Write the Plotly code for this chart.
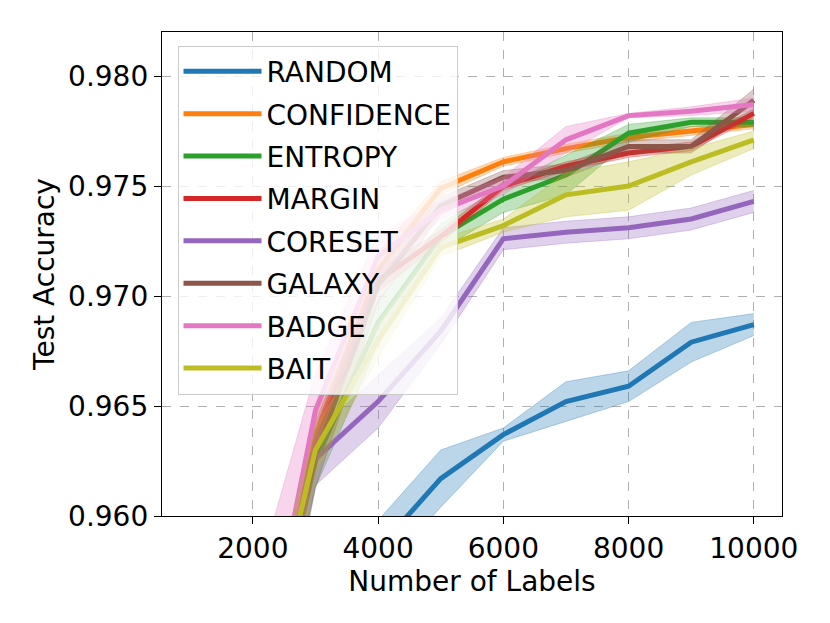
import plotly.graph_objects as go

labels = [1000, 2000, 3000, 4000, 5000, 6000, 7000, 8000, 9000, 10000]

methods = ["RANDOM", "CONFIDENCE", "ENTROPY", "MARGIN", "CORESET", "GALAXY", "BADGE", "BAIT"]
colors = ["#1f77b4", "#ff7f0e", "#2ca02c", "#d62728", "#9467bd", "#8c564b", "#e377c2", "#bcbd22"]

random_mean = [0.9200, 0.9350, 0.9480, 0.9585, 0.9617, 0.9637, 0.9652, 0.9659, 0.9679, 0.9687]
random_std = [0.0020, 0.0018, 0.0015, 0.0013, 0.0013, 0.0003, 0.0009, 0.0007, 0.0009, 0.0005]

confidence_mean = [0.9300, 0.9500, 0.9637, 0.9712, 0.9749, 0.9761, 0.9767, 0.9772, 0.9775, 0.9778]
confidence_std = [0.0020, 0.0020, 0.0008, 0.0008, 0.0003, 0.0002, 0.0002, 0.0002, 0.0002, 0.0002]

entropy_mean = [0.9300, 0.9500, 0.9625, 0.9688, 0.9727, 0.9744, 0.9755, 0.9774, 0.9779, 0.9779]
entropy_std = [0.0020, 0.0020, 0.0012, 0.0010, 0.0006, 0.0006, 0.0009, 0.0004, 0.0002, 0.0002]

margin_mean = [0.9300, 0.9500, 0.9632, 0.9707, 0.9727, 0.9750, 0.9759, 0.9765, 0.9768, 0.9783]
margin_std = [0.0020, 0.0020, 0.0006, 0.0005, 0.0003, 0.0002, 0.0002, 0.0002, 0.0002, 0.0002]

coreset_mean = [0.9320, 0.9504, 0.9626, 0.9652, 0.9684, 0.9726, 0.9729, 0.9731, 0.9735, 0.9743]
coreset_std = [0.0020, 0.0020, 0.0012, 0.0012, 0.0006, 0.0005, 0.0005, 0.0005, 0.0005, 0.0005]

galaxy_mean = [0.9300, 0.9495, 0.9628, 0.9705, 0.9741, 0.9754, 0.9757, 0.9768, 0.9768, 0.9789]
galaxy_std = [0.0030, 0.0030, 0.0015, 0.0008, 0.0004, 0.0003, 0.0003, 0.0003, 0.0003, 0.0005]

badge_mean = [0.9300, 0.9505, 0.9648, 0.9718, 0.9739, 0.9750, 0.9771, 0.9782, 0.9784, 0.9787]
badge_std = [0.0060, 0.0060, 0.0017, 0.0010, 0.0004, 0.0004, 0.0006, 0.0001, 0.0002, 0.0003]

bait_mean = [0.9310, 0.9510, 0.9630, 0.9680, 0.9722, 0.9732, 0.9746, 0.9750, 0.9761, 0.9771]
bait_std = [0.0020, 0.0020, 0.0010, 0.0008, 0.0004, 0.0003, 0.0010, 0.0011, 0.0006, 0.0004]

means = [random_mean, confidence_mean, entropy_mean, margin_mean,
         coreset_mean, galaxy_mean, badge_mean, bait_mean]
stds = [random_std, confidence_std, entropy_std, margin_std,
        coreset_std, galaxy_std, badge_std, bait_std]

x_ticks = [2000, 4000, 6000, 8000, 10000]
x_tick_text = ["2000", "4000", "6000", "8000", "10000"]
y_ticks = [0.960, 0.965, 0.970, 0.975, 0.980]
y_tick_text = ["0.960", "0.965", "0.970", "0.975", "0.980"]


def rgba(hex_color, a):
    h = hex_color.lstrip("#")
    r, g, b = int(h[0:2], 16), int(h[2:4], 16), int(h[4:6], 16)
    return f"rgba({r},{g},{b},{a})"


FONT = "DejaVu Sans"
fig = go.Figure()

for name, col, m, s in zip(methods, colors, means, stds):
    lower = [a - b for a, b in zip(m, s)]
    upper = [a + b for a, b in zip(m, s)]
    fig.add_trace(go.Scatter(x=labels, y=lower, mode="lines",
                             line=dict(color=rgba(col, 0.3), width=1),
                             legendgroup=name, showlegend=False, hoverinfo="skip"))
    fig.add_trace(go.Scatter(x=labels, y=upper, mode="lines",
                             line=dict(color=rgba(col, 0.3), width=1),
                             fill="tonexty", fillcolor=rgba(col, 0.3),
                             legendgroup=name, showlegend=False, hoverinfo="skip"))
    fig.add_trace(go.Scatter(x=labels, y=m, mode="lines", name=name,
                             line=dict(color=col, width=5),
                             legendgroup=name))

axis_common = dict(
    showgrid=True, gridcolor="#b0b0b0", griddash="dash", gridwidth=1,
    showline=True, mirror=True, linecolor="black", linewidth=1.3,
    ticks="outside", ticklen=7, tickwidth=1.3, tickcolor="black",
    tickfont=dict(family=FONT, size=28, color="black"),
    zeroline=False,
)

fig.update_layout(
    width=830, height=623,
    paper_bgcolor="white", plot_bgcolor="white",
    margin=dict(l=154, r=56, t=24, b=115),
    font=dict(family=FONT, size=28, color="black"),
    xaxis=dict(range=[550, 10450], tickvals=x_ticks, ticktext=x_tick_text,
               title=dict(text="Number of Labels", font=dict(family=FONT, size=28), standoff=0),
               **axis_common),
    yaxis=dict(range=[0.960, 0.982], tickvals=y_ticks, ticktext=y_tick_text,
               title=dict(text="Test Accuracy", font=dict(family=FONT, size=28), standoff=5),
               **axis_common),
    legend=dict(x=0.025, y=0.972, xanchor="left", yanchor="top",
                bgcolor="rgba(255,255,255,0.8)", bordercolor="#cccccc", borderwidth=1,
                font=dict(family=FONT, size=28, color="black"),
                tracegroupgap=3, itemwidth=78),
    showlegend=True,
)

fig.write_html("out.html")
